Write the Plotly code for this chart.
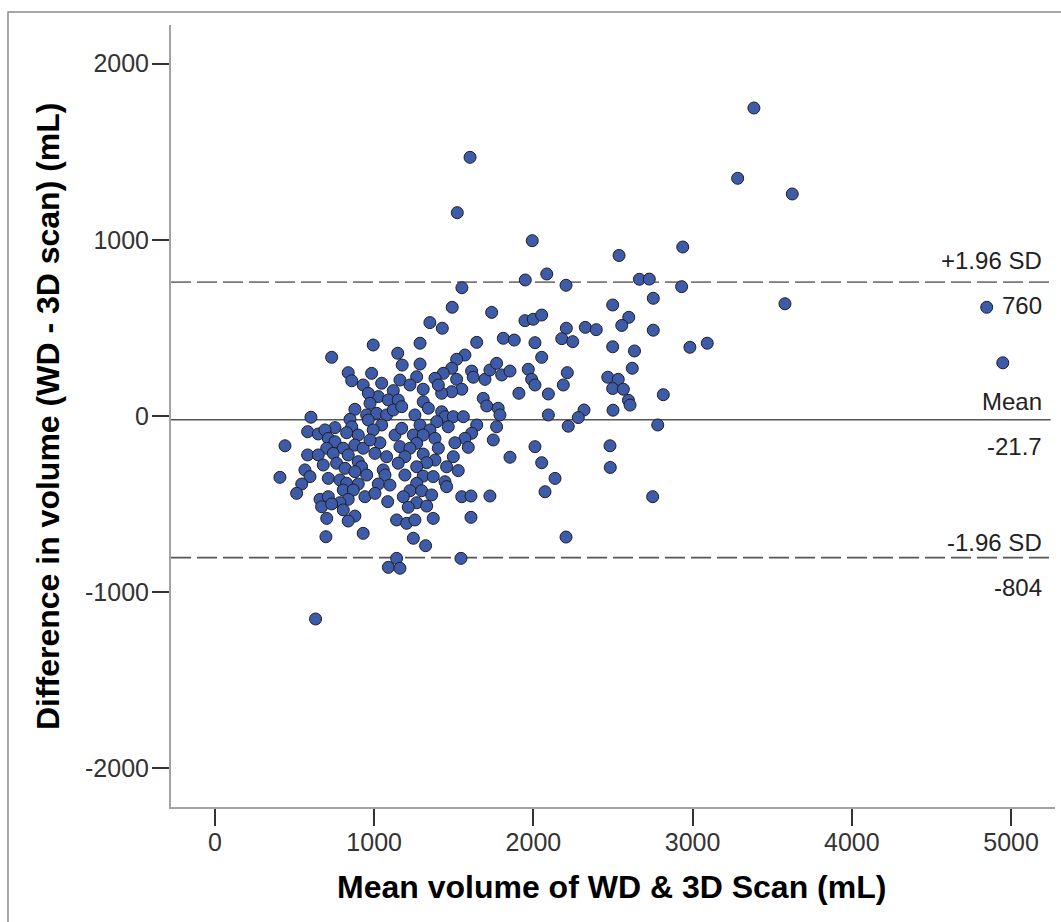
import plotly.graph_objects as go

# Bland-Altman: mean of the two methods vs. their difference (WD - 3D scan), in mL
mean_volume = [
    994, 733, 837, 859, 984, 931, 1047, 1026, 963, 1120, 1089, 1151, 879, 974, 953, 1016,
    1078, 1120, 603, 848, 963, 1047, 859, 754, 582, 649, 691, 712, 827, 900, 994, 1131,
    440, 754, 806, 702, 879, 931, 1036, 974, 582, 649, 743, 837, 1005, 1078, 680, 764,
    900, 921, 817, 879, 953, 1057, 565, 408, 712, 597, 785, 1068, 545, 827, 900, 1026,
    1099, 806, 869, 513, 942, 1005, 660, 712, 837, 785, 670, 733, 806, 1085, 879, 702,
    837, 697, 931, 1089,
    1490, 1738, 1350, 1428, 1947, 1999, 2052, 1288, 1644, 1811, 1880, 2010, 2052, 1148,
    1570, 1518, 1176, 1288, 1487, 1434, 1382, 1267, 1162, 1225, 1612, 1622, 1696, 1727,
    1769, 1801, 1853, 1968, 1989, 2010, 2094, 1909, 1518, 1550, 1487, 1424, 1308, 1403,
    1685, 1707, 1779, 1790, 1173, 1308, 1340, 1424, 1256, 1445, 1497, 1560, 2094, 1393,
    1288, 1465, 1644, 1769, 1173, 1350, 1246, 1308, 1382, 1612, 1570, 1507, 1591, 1748,
    1162, 1267, 1225, 1403, 2010, 1853, 2052, 1308, 1193, 1497, 1382, 1330, 1151, 1267,
    1455, 1528, 1193, 1308, 1371, 1445, 1455, 1267, 2136, 1225, 1298, 1361, 1183, 1550,
    1608, 1727, 2073, 1267, 1330, 1214, 1141, 1204, 1256, 1371, 1608, 1246, 1323, 1545,
    1141, 1162,
    1602, 3283, 1522, 1993, 2938, 2538, 1949, 2084, 2205, 1551, 2666, 2728, 2931, 2753,
    2498, 2599, 2555, 2753, 2207, 2326, 2395, 2178, 2247, 2498, 2635, 2983, 3092, 2621,
    2213, 2467, 2533, 2498, 2565, 2188, 2816, 2597, 2607, 2318, 2282, 2500, 2219, 2781,
    2481, 2483, 2749, 3385, 3626, 3580, 4847, 4948, 2205, 632,
]

diff_volume = [
    403, 333, 246, 200, 242, 176, 186, 110, 129, 144, 91, 91, 38, 72, 6, 15,
    6, 34, -7, -19, -23, -51, -61, -66, -89, -102, -79, -127, -95, -108, -79, -108,
    -169, -146, -183, -183, -165, -183, -152, -136, -221, -221, -212, -221, -212, -231, -278, -268,
    -259, -288, -297, -316, -335, -306, -306, -348, -354, -344, -363, -335, -386, -382, -386, -386,
    -392, -420, -420, -439, -458, -439, -473, -458, -473, -492, -515, -499, -533, -486, -568, -581,
    -596, -685, -666, -859,
    617, 588, 530, 498, 541, 549, 573, 413, 418, 441, 431, 416, 333, 356,
    346, 322, 289, 295, 271, 242, 214, 223, 204, 176, 255, 220, 208, 261,
    299, 233, 255, 265, 208, 176, 125, 129, 208, 152, 138, 129, 152, 176,
    100, 57, 44, 6, 53, 81, 44, 24, 6, -4, -4, -4, 6, -32,
    -51, -61, -51, -61, -70, -79, -108, -108, -127, -98, -127, -152, -178, -136,
    -174, -155, -183, -183, -174, -234, -265, -216, -231, -231, -250, -265, -268, -288,
    -288, -310, -335, -341, -344, -373, -401, -382, -354, -424, -424, -448, -458, -458,
    -454, -454, -430, -492, -511, -518, -590, -609, -590, -581, -575, -694, -736, -808,
    -808, -864,
    1468, 1349, 1154, 995, 959, 911, 772, 806, 742, 728, 776, 777, 734, 668,
    630, 560, 514, 487, 498, 503, 490, 439, 422, 393, 369, 390, 413, 271,
    246, 220, 208, 156, 152, 176, 121, 89, 62, 34, -9, 33, -58, -51,
    -169, -292, -458, 1748, 1260, 637, 617, 302, -687, -1152,
]

# Summary statistics of the differences
bias = -21.7
upper_loa = 760
lower_loa = -804

x_ticks = [0, 1000, 2000, 3000, 4000, 5000]
x_tick_text = ["0", "1000", "2000", "3000", "4000", "5000"]
y_ticks = [-2000, -1000, 0, 1000, 2000]
y_tick_text = ["-2000", "-1000", "0", "1000", "2000"]

FONT = "Arial, Liberation Sans, sans-serif"

fig = go.Figure()

# Limits of agreement and mean difference
line_styles = [
    (upper_loa, "#7a7a7a", "20px,6px", 1.6),
    (bias, "#555555", "solid", 1.4),
    (lower_loa, "#555555", "20px,6px", 1.6),
]
for val, col, dash, w in line_styles:
    fig.add_shape(type="line", xref="x domain", yref="y", x0=0, x1=0.995,
                  y0=val, y1=val, line=dict(color=col, width=w, dash=dash),
                  layer="below")

fig.add_trace(go.Scatter(
    x=mean_volume, y=diff_volume, mode="markers",
    marker=dict(size=12, color="#3E5BAA", line=dict(color="#1f1f1f", width=1)),
    showlegend=False, hoverinfo="x+y",
))

# Labels next to the reference lines
labels = [
    ("+1.96 SD", upper_loa, 22),
    (f"{upper_loa}", upper_loa, -23),
    ("Mean", bias, 18),
    (f"{bias}", bias, -27),
    ("-1.96 SD", lower_loa, 15),
    (f"{lower_loa}", lower_loa, -30),
]
for txt, val, shift in labels:
    fig.add_annotation(text=txt, xref="x domain", yref="y", x=0.987, y=val,
                       yshift=shift, xanchor="right", yanchor="middle",
                       showarrow=False, font=dict(family=FONT, size=24, color="#222222"))

# Axis titles
fig.add_annotation(text="<b>Mean volume of WD & 3D Scan (mL)</b>", xref="paper", yref="paper",
                   x=0.498, y=-0.102, xanchor="center", yanchor="middle", showarrow=False,
                   font=dict(family=FONT, size=32, color="#000000"))
fig.add_annotation(text="<b>Difference in volume (WD - 3D scan) (mL)</b>", xref="paper",
                   yref="paper", x=-0.139, y=0.5, xanchor="center", yanchor="middle",
                   textangle=-90, showarrow=False,
                   font=dict(family=FONT, size=32, color="#000000"))

# Outer frame of the chart
fig.add_shape(type="rect", xref="paper", yref="paper", x0=-0.1844, x1=1.2, y0=-0.3, y1=1.0166,
              line=dict(color="#8a8a8a", width=1.5), fillcolor="rgba(0,0,0,0)", layer="below")

axis_common = dict(
    showgrid=False, zeroline=False, showline=True, linecolor="#a3a3a3", linewidth=2,
    ticks="outside", ticklen=17, tickwidth=2, tickcolor="#333333",
    tickfont=dict(family=FONT, size=25, color="#333333"),
)

fig.update_xaxes(range=[-276, 5276], tickvals=x_ticks, ticktext=x_tick_text,
                 ticklabelstandoff=-5, **axis_common)
fig.update_yaxes(range=[-2219, 2219], tickvals=y_ticks, ticktext=y_tick_text,
                 ticklabelstandoff=-2, **axis_common)

fig.update_layout(
    width=1061, height=922,
    margin=dict(l=171, r=6, t=25, b=115),
    paper_bgcolor="white", plot_bgcolor="white",
    font=dict(family=FONT),
)

fig.write_html("out.html")
